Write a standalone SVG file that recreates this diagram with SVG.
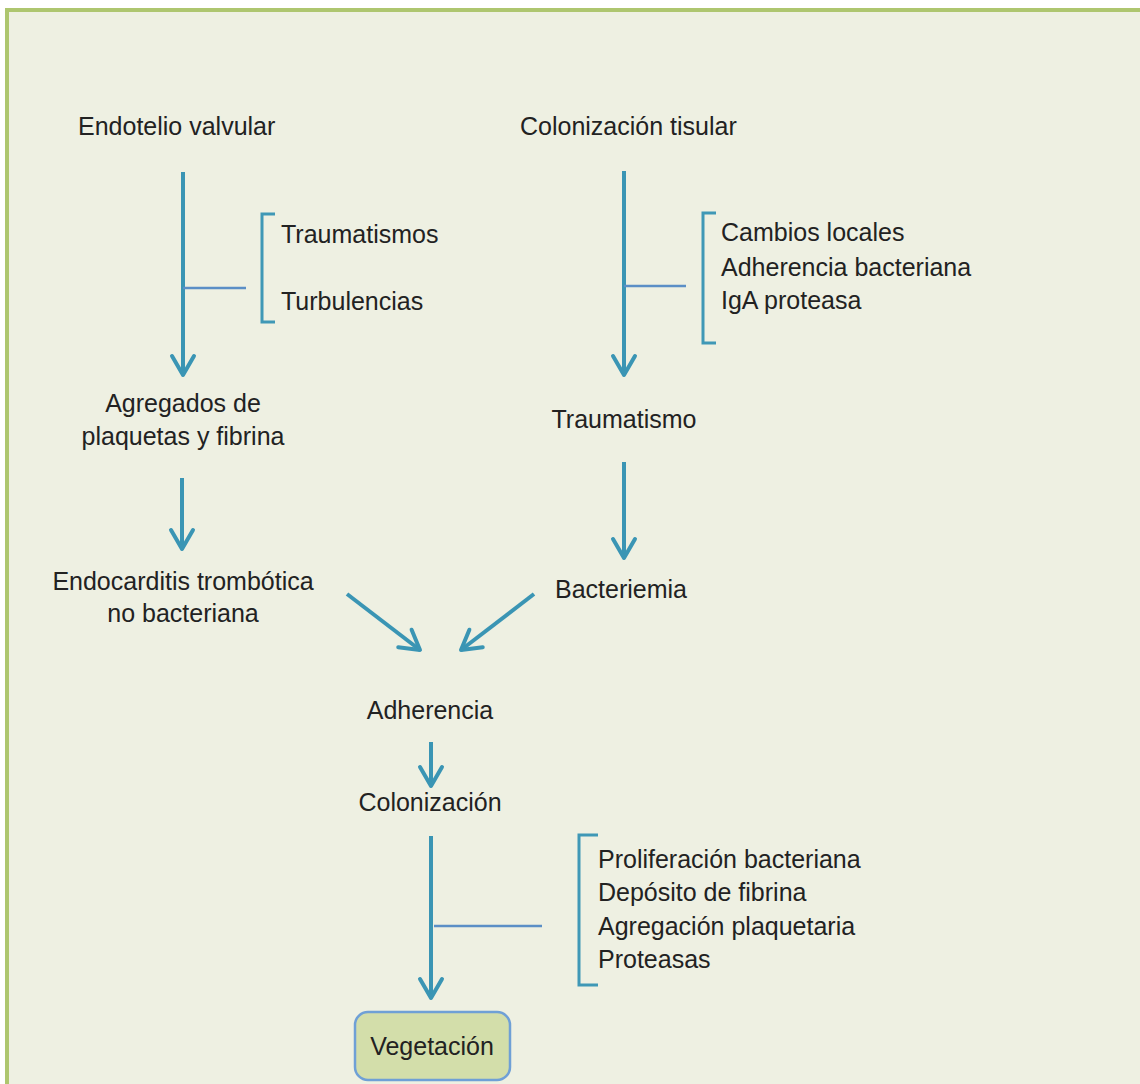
<svg xmlns="http://www.w3.org/2000/svg" width="1140" height="1084" viewBox="0 0 1140 1084">
<style>
.t{font-family:"Liberation Sans",Arial,sans-serif;font-size:25px;fill:#222;}
.m{text-anchor:middle;}
.arr{stroke:#3a95b4;stroke-width:4;fill:none;marker-end:url(#ah);}
.br{stroke:#5b8fc6;stroke-width:2.5;fill:none;}
.bk{stroke:#3f98b6;stroke-width:3;fill:none;}
</style>
<defs>
<marker id="ah" viewBox="-24 -14 28 28" refX="0" refY="0" markerUnits="userSpaceOnUse" markerWidth="28" markerHeight="28" orient="auto">
<path d="M-19,-11 L0,0 L-19,11" stroke="#3a95b4" stroke-width="4" fill="none" stroke-linecap="round" stroke-linejoin="round"/>
</marker>
</defs>
<rect x="0" y="0" width="1140" height="1084" fill="#ffffff"/>
<rect x="7" y="10" width="1140" height="1090" fill="#eef0e2" stroke="#aec66f" stroke-width="4"/>

<g id="connectors">
<line class="arr" x1="183" y1="172" x2="183" y2="375"/>
<line class="br" x1="183" y1="288" x2="246" y2="288"/>
<path class="bk" d="M275,214 H262 V322 H275"/>
<line class="arr" x1="182" y1="478" x2="182" y2="549"/>
<line class="arr" x1="624" y1="171" x2="624" y2="375"/>
<line class="br" x1="624" y1="286" x2="686" y2="286"/>
<path class="bk" d="M716,213 H703 V343 H716"/>
<line class="arr" x1="624" y1="462" x2="624" y2="558"/>
<line class="arr" x1="347" y1="594" x2="420" y2="650"/>
<line class="arr" x1="534" y1="594" x2="461" y2="650"/>
<line class="arr" x1="431" y1="742" x2="431" y2="786"/>
<line class="arr" x1="431" y1="836" x2="431" y2="998"/>
<line class="br" x1="434" y1="926" x2="542" y2="926"/>
<path class="bk" d="M598,835 H579 V985 H598"/>
</g>

<g id="endotelio"><text class="t" x="78" y="135">Endotelio valvular</text></g>
<g id="colonizacion-tisular"><text class="t" x="520" y="135">Colonización tisular</text></g>
<g id="factores-1">
<text class="t" x="281" y="243">Traumatismos</text>
<text class="t" x="281" y="310">Turbulencias</text>
</g>
<g id="factores-2">
<text class="t" x="721" y="241">Cambios locales</text>
<text class="t" x="721" y="276">Adherencia bacteriana</text>
<text class="t" x="721" y="309">IgA proteasa</text>
</g>
<g id="agregados">
<text class="t m" x="183" y="412">Agregados de</text>
<text class="t m" x="183" y="445">plaquetas y fibrina</text>
</g>
<g id="traumatismo"><text class="t m" x="624" y="428">Traumatismo</text></g>
<g id="endocarditis">
<text class="t m" x="183" y="590">Endocarditis trombótica</text>
<text class="t m" x="183" y="622">no bacteriana</text>
</g>
<g id="bacteriemia"><text class="t" x="555" y="598">Bacteriemia</text></g>
<g id="adherencia"><text class="t m" x="430" y="719">Adherencia</text></g>
<g id="colonizacion"><text class="t m" x="430" y="811">Colonización</text></g>
<g id="factores-3">
<text class="t" x="598" y="868">Proliferación bacteriana</text>
<text class="t" x="598" y="901">Depósito de fibrina</text>
<text class="t" x="598" y="935">Agregación plaquetaria</text>
<text class="t" x="598" y="968">Proteasas</text>
</g>
<g id="vegetacion">
<rect x="355" y="1012" width="155" height="68" rx="13" fill="#d3deaa" stroke="#6fa0d6" stroke-width="2.5"/>
<text class="t m" x="432" y="1055">Vegetación</text>
</g>
</svg>
